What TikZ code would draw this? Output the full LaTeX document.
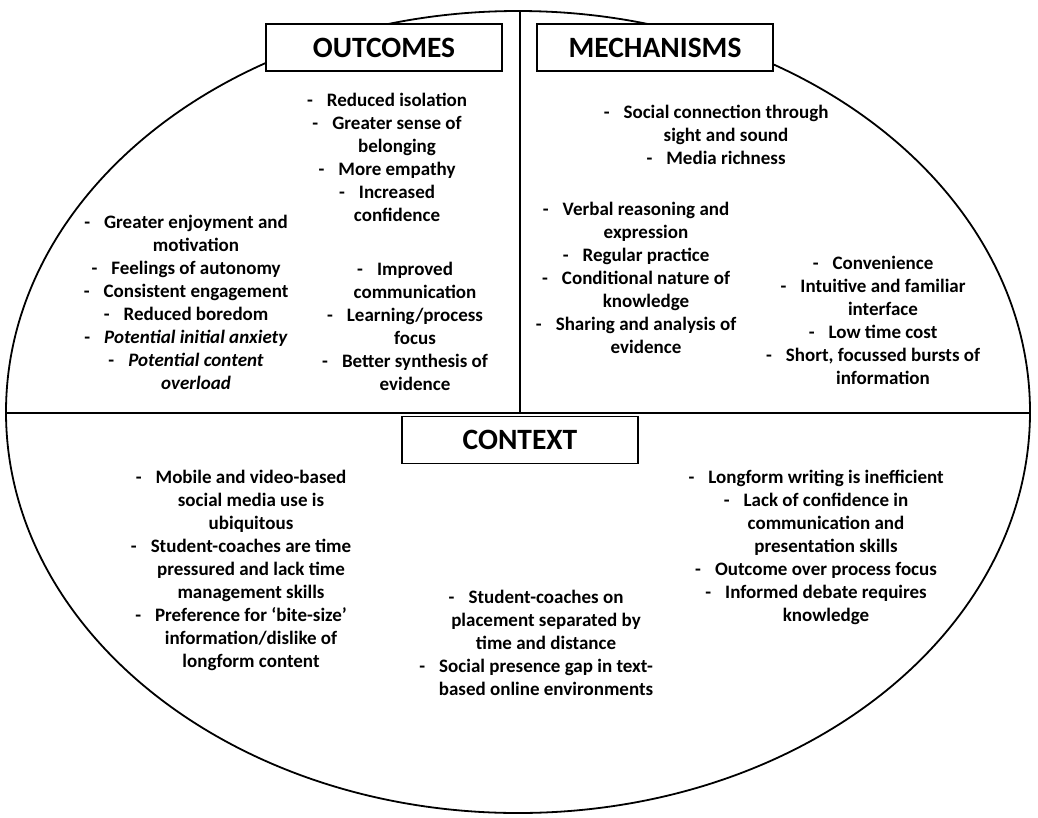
\documentclass[tikz,border=0pt]{standalone}
\usepackage{fontspec}
\setmainfont{Carlito}
\newcommand{\bul}{\llap{-\hspace{14pt}}}
\begin{document}
\begin{tikzpicture}[x=1pt,y=-1pt,
  txt/.style={font=\bfseries\fontsize{19}{23}\selectfont, align=center, anchor=north, inner sep=0pt},
  titlebox/.style={draw, line width=1.8pt, fill=white, font=\bfseries\fontsize{29.5}{32}\selectfont,
    minimum width=236pt, minimum height=47pt, inner sep=0pt}]
\useasboundingbox (0,0) rectangle (1038,817);
\coordinate (c) at (518,412);
\draw[line width=1.8pt] (c) ellipse [x radius=512pt, y radius=401pt];
\begin{scope}
  \clip (c) ellipse [x radius=512pt, y radius=401pt];
  \coordinate (hl) at (0,413);
  \coordinate (hr) at (1038,413);
  \coordinate (vt) at (520,0);
  \coordinate (vb) at (520,413);
  \draw[line width=1.8pt] (hl) -- (hr);
  \draw[line width=1.8pt] (vt) -- (vb);
\end{scope}
\node[titlebox] (outcomes) at (384,47.5) {OUTCOMES};
\node[titlebox] (mechanisms) at (655,47.5) {MECHANISMS};
\node[titlebox] (context) at (520,440) {CONTEXT};

\node[txt] (o1) at (397,93) {\bul Reduced isolation\\ \bul Greater sense of\\ belonging\\ \bul More empathy\\ \bul Increased\\ confidence};
\node[txt] (o2) at (196,215) {\bul Greater enjoyment and\\ motivation\\ \bul Feelings of autonomy\\ \bul Consistent engagement\\ \bul Reduced boredom\\ \bul \textit{Potential initial anxiety}\\ \bul \textit{Potential content}\\ \textit{overload}};
\node[txt] (o3) at (415,262) {\bul Improved\\ communication\\ \bul Learning/process\\ focus\\ \bul Better synthesis of\\ evidence};

\node[txt] (m1) at (726,105) {\bul Social connection through\\ sight and sound\\ \bul Media richness};
\node[txt] (m2) at (646,202) {\bul Verbal reasoning and\\ expression\\ \bul Regular practice\\ \bul Conditional nature of\\ knowledge\\ \bul Sharing and analysis of\\ evidence};
\node[txt] (m3) at (883,256) {\bul Convenience\\ \bul Intuitive and familiar\\ interface\\ \bul Low time cost\\ \bul Short, focussed bursts of\\ information};

\node[txt] (c1) at (251,470) {\bul Mobile and video-based\\ social media use is\\ ubiquitous\\ \bul Student-coaches are time\\ pressured and lack time\\ management skills\\ \bul Preference for ‘bite-size’\\ information/dislike of\\ longform content};
\node[txt] (c2) at (546,590) {\bul Student-coaches on\\ placement separated by\\ time and distance\\ \bul Social presence gap in text-\\ based online environments};
\node[txt] (c3) at (826,470) {\bul Longform writing is inefficient\\ \bul Lack of confidence in\\ communication and\\ presentation skills\\ \bul Outcome over process focus\\ \bul Informed debate requires\\ knowledge};
\end{tikzpicture}
\end{document}
